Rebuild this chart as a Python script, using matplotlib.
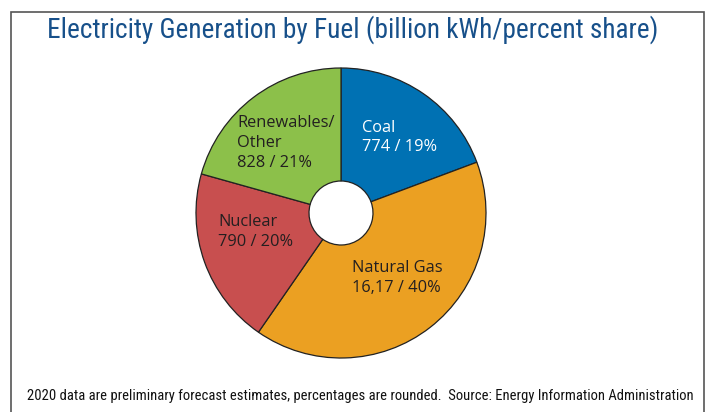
import matplotlib.pyplot as plt
from matplotlib.patches import Rectangle

fuels = ['Coal', 'Natural Gas', 'Nuclear', 'Renewables/\nOther']
generation = [774, 1617, 790, 828]
value_text = ['774', '16,17', '790', '828']
shares = [19, 40, 20, 21]
colors = ['#0071b3', '#eba022', '#c84f4f', '#8cc04a']

narrow = ['Roboto Condensed', 'Archivo Narrow', 'DejaVu Sans']

W, H = 706, 412
fig = plt.figure(figsize=(W / 100, H / 100), dpi=100)

# border box (open at bottom)
fig.patches.append(Rectangle((10.5 / W, -0.05), (704 - 10.5) / W, (H - 12) / H + 0.05,
                             transform=fig.transFigure, fill=False, ec='#555555', lw=1.2))

fig.text(47 / W, 1 - 38 / H, 'Electricity Generation by Fuel (billion kWh/percent share)',
         family=narrow, fontsize=19.6, color='#17508a', ha='left', va='baseline')
fig.text(694 / W, 1 - 400 / H,
         '2020 data are preliminary forecast estimates, percentages are rounded.  '
         'Source: Energy Information Administration',
         family=narrow, fontsize=10.5, color='#111111', ha='right', va='baseline')

cx, cy, r = 341, 213, 145
ax = fig.add_axes([(cx - r) / W, (H - cy - r) / H, 2 * r / W, 2 * r / H])
ax.pie(generation, colors=colors, startangle=90, counterclock=False, radius=1,
       wedgeprops=dict(width=1 - 32 / 145, edgecolor='#222222', linewidth=0.9))
ax.set_xlim(-1, 1)
ax.set_ylim(-1, 1)
ax.set_aspect('auto')
ax.axis('off')

# label positions in pixels (left, vertical centre)
label_pos = [(362, 137.5), (352, 278), (218, 232), (237, 143)]
label_col = ['white', '#231f20', '#231f20', '#231f20']
for name, val, pct, (lx, ly), c in zip(fuels, value_text, shares, label_pos, label_col):
    fig.text(lx / W, 1 - ly / H, f'{name}\n{val} / {pct}%', family='Open Sans',
             fontsize=11.8, color=c, ha='left', va='center', linespacing=1.3)

fig.savefig('out.png', dpi=100)
